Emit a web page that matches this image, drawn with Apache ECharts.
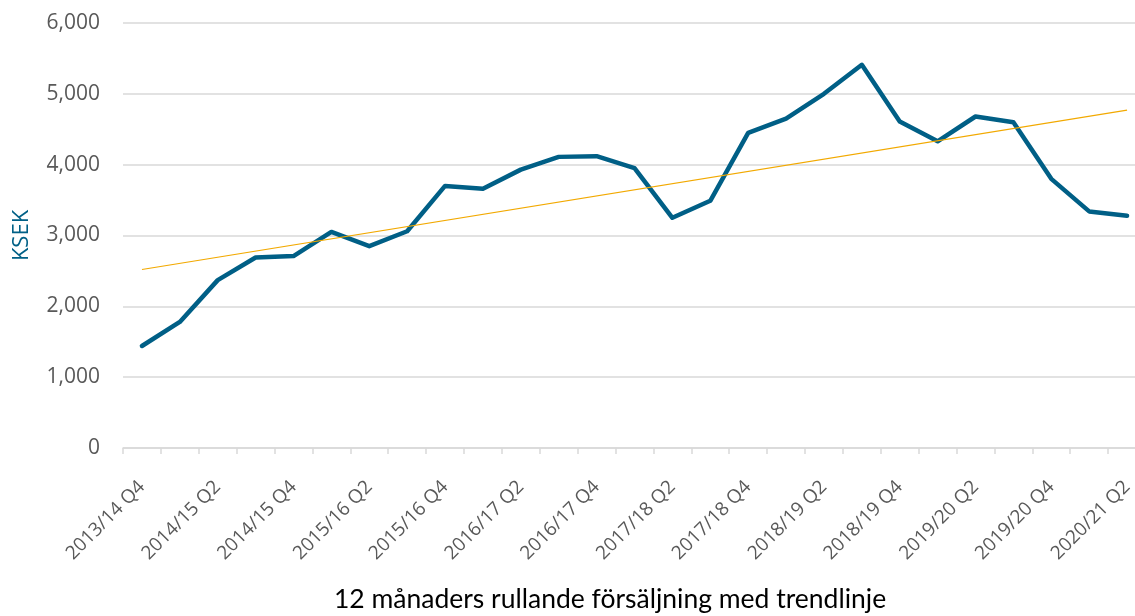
<!DOCTYPE html>
<html>
<head>
<meta charset="utf-8">
<script src="https://cdn.jsdelivr.net/npm/echarts@6/dist/echarts.min.js"></script>
<style>
  html, body { margin: 0; padding: 0; background: #fff; }
  #chart { width: 1135px; height: 616px; }
</style>
</head>
<body>
<div id="chart"></div>
<script>
// kvartal 2013/14 Q4 - 2020/21 Q2
const quarters = [
  '2013/14 Q4',
  '2014/15 Q1', '2014/15 Q2', '2014/15 Q3', '2014/15 Q4',
  '2015/16 Q1', '2015/16 Q2', '2015/16 Q3', '2015/16 Q4',
  '2016/17 Q1', '2016/17 Q2', '2016/17 Q3', '2016/17 Q4',
  '2017/18 Q1', '2017/18 Q2', '2017/18 Q3', '2017/18 Q4',
  '2018/19 Q1', '2018/19 Q2', '2018/19 Q3', '2018/19 Q4',
  '2019/20 Q1', '2019/20 Q2', '2019/20 Q3', '2019/20 Q4',
  '2020/21 Q1', '2020/21 Q2'
];

// 12 månaders rullande försäljning, KSEK
const sales = [
  1440,
  1780, 2370, 2690, 2710,
  3050, 2850, 3060, 3700,
  3660, 3930, 4110, 4120,
  3950, 3250, 3490, 4450,
  4650, 5000, 5410, 4610,
  4330, 4680, 4600, 3800,
  3340, 3280
];

// trendlinje, start- och slutvärde
const trendEnds = [2520, 4770];

const yTicks = { min: 0, max: 6000, interval: 1000 };

const chart = echarts.init(document.getElementById('chart'));

const grey = '#d9d9d9';
const labelColor = '#595959';
const font = '"Open Sans", sans-serif';

chart.setOption({
  backgroundColor: '#fff',
  animation: false,
  title: {
    text: '12 månaders rullande försäljning med trendlinje',
    left: 334,
    top: 586,
    padding: 0,
    textStyle: { color: '#000', fontSize: 26.5, fontWeight: 'normal', fontFamily: 'Lato, sans-serif' }
  },
  grid: { left: 123, right: -11, top: 23, bottom: 168, outerBoundsMode: 'none', containLabel: false },
  xAxis: {
    type: 'category',
    data: quarters,
    boundaryGap: true,
    axisLine: { lineStyle: { color: grey, width: 1.5 } },
    axisTick: { show: true, length: 6, interval: 0, lineStyle: { color: grey, width: 1.5 } },
    axisLabel: {
      interval: 1,
      rotate: 45,
      margin: 36,
      color: labelColor,
      fontSize: 19,
      fontFamily: font
    }
  },
  yAxis: {
    type: 'value',
    min: yTicks.min,
    max: yTicks.max,
    interval: yTicks.interval,
    axisLine: { show: false },
    axisTick: { show: false },
    splitLine: { lineStyle: { color: grey, width: 1.5 } },
    axisLabel: {
      margin: 23,
      color: labelColor,
      fontSize: 21,
      fontFamily: font,
      formatter: v => v.toLocaleString('en-US')
    },
    name: 'KSEK',
    nameLocation: 'middle',
    nameGap: 90,
    nameRotate: 90,
    nameTextStyle: { color: '#006086', fontSize: 22, fontFamily: font }
  },
  series: [
    {
      type: 'line',
      data: sales,
      symbol: 'none',
      lineStyle: { color: '#005f86', width: 4.5, cap: 'round', join: 'round' },
      z: 3,
      markLine: {
        silent: true,
        symbol: ['none', 'none'],
        label: { show: false },
        lineStyle: { color: '#f2a900', width: 1.2, type: 'solid' },
        data: [[
          { coord: [quarters[0], trendEnds[0]] },
          { coord: [quarters[quarters.length - 1], trendEnds[1]] }
        ]]
      }
    }
  ]
});
</script>
</body>
</html>
